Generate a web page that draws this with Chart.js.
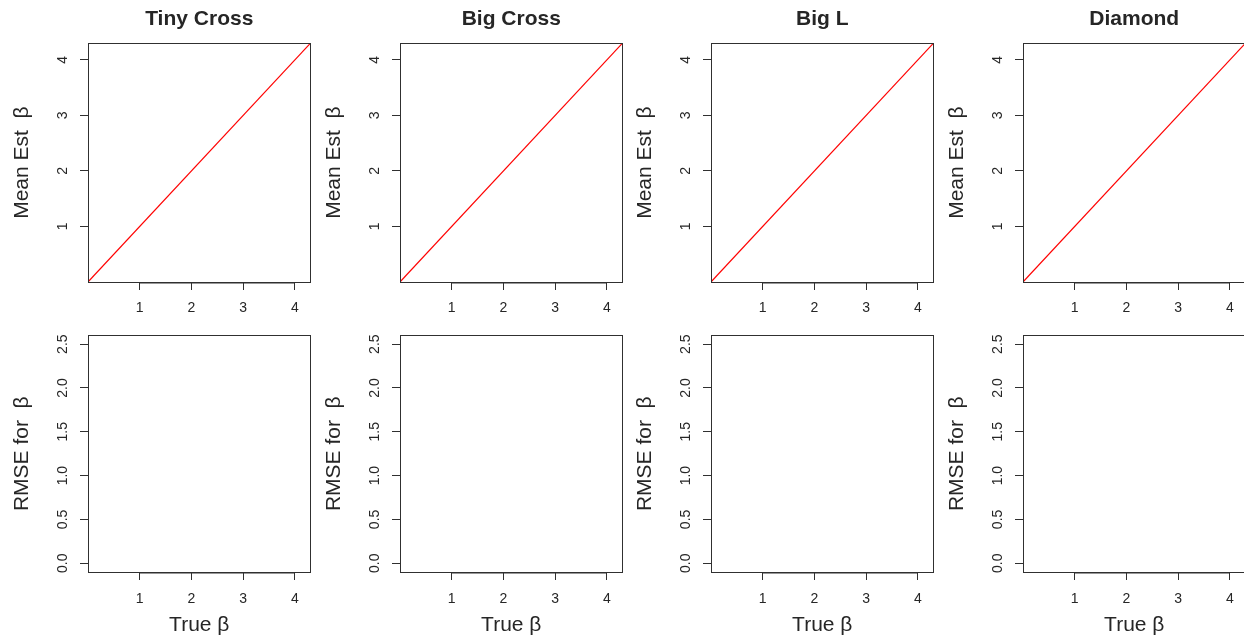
<!DOCTYPE html>
<html>
<head>
<meta charset="utf-8">
<script src="https://cdn.jsdelivr.net/npm/chart.js@4"></script>
<style>
  html, body { margin: 0; padding: 0; background: #fff; overflow: hidden; }
  #wrap { position: relative; width: 1244px; height: 641px; overflow: hidden; }
  .cell { position: absolute; width: 311px; height: 321px; }
  .cell canvas { display: block; }
</style>
</head>
<body>
<div id="wrap"></div>
<script>
// ---------------------------------------------------------------------------
// Data
// ---------------------------------------------------------------------------
const SHAPES = ['Tiny Cross', 'Big Cross', 'Big L', 'Diamond'];

const TRUE_BETA_RANGE = [0, 4.3];
const TRUE_BETA_TICKS = [1, 2, 3, 4];

const MEAN_EST_RANGE = [0, 4.3];
const MEAN_EST_TICKS = [1, 2, 3, 4];

const RMSE_RANGE = [-0.1, 2.6];
const RMSE_TICKS = [0, 0.5, 1, 1.5, 2, 2.5];

// reference line y = x (red)
const REF_X = [0, 4.3];
const REF_Y = [0, 4.3];

// ---------------------------------------------------------------------------
// Style
// ---------------------------------------------------------------------------
const FONT = "'Liberation Sans', Arial, Helvetica, sans-serif";
const INK = '#262626';
const LINE = '#303030';
const COL_LEFT = [0, 312, 623, 935];
const CELL_W = 311, CELL_H = 321;

Chart.defaults.font.family = FONT;
Chart.defaults.color = INK;

// full box round the plot region, like R's box()
const boxPlugin = {
  id: 'rbox',
  afterDatasetsDraw(chart) {
    const { ctx, chartArea: a, scales } = chart;
    const l = Math.floor(a.left) + 0.5, r = Math.floor(a.right) + 0.5;
    const t = Math.floor(a.top) + 0.5, b = Math.floor(a.bottom) + 0.5;
    ctx.save();
    ctx.strokeStyle = LINE;
    ctx.lineWidth = 1;
    ctx.strokeRect(l, t, r - l, b - t);
    // axis line between first and last tick sits on the box edge
    const x = scales.x;
    const x0 = x.getPixelForValue(x.ticks[0].value);
    const x1 = x.getPixelForValue(x.ticks[x.ticks.length - 1].value);
    ctx.lineWidth = 1.6;
    ctx.beginPath();
    ctx.moveTo(x0, b + 0.3);
    ctx.lineTo(x1, b + 0.3);
    ctx.stroke();
    ctx.restore();
  },
};

function makePanel(col, row) {
  const top = row === 0;
  const el = document.createElement('div');
  el.className = 'cell';
  el.style.left = COL_LEFT[col] + 'px';
  el.style.top = (top ? 0 : 320) + 'px';
  const cv = document.createElement('canvas');
  cv.width = CELL_W;
  cv.height = CELL_H;
  cv.style.width = CELL_W + 'px';
  cv.style.height = CELL_H + 'px';
  el.appendChild(cv);
  document.getElementById('wrap').appendChild(el);

  const yTicks = top ? MEAN_EST_TICKS : RMSE_TICKS;
  const yRange = top ? MEAN_EST_RANGE : RMSE_RANGE;

  return new Chart(cv, {
    type: 'scatter',
    data: {
      datasets: top ? [{
        data: REF_X.map((v, i) => ({ x: v, y: REF_Y[i] })),
        showLine: true,
        borderColor: '#ff0000',
        borderWidth: 1.2,
        pointRadius: 0,
        fill: false,
      }] : [],
    },
    options: {
      responsive: false,
      animation: false,
      events: [],
      layout: { padding: { top: top ? 0 : 14, right: 0.5, left: 0, bottom: 0 } },
      plugins: {
        legend: { display: false },
        tooltip: { enabled: false },
        title: {
          display: top,
          text: SHAPES[col],
          fullSize: false,
          color: INK,
          font: { size: 21, weight: 'bold' },
          padding: { top: 6.4, bottom: 11.6 },
        },
      },
      scales: {
        x: {
          type: 'linear',
          min: TRUE_BETA_RANGE[0],
          max: TRUE_BETA_RANGE[1],
          afterBuildTicks: s => { s.ticks = TRUE_BETA_TICKS.map(v => ({ value: v })); },
          afterFit: s => { s.height = top ? 39 : 69; },
          grid: { drawOnChartArea: false, drawTicks: true, tickLength: 8, color: LINE },
          border: { display: true, color: LINE },
          ticks: {
            autoSkip: false,
            maxRotation: 0,
            padding: top ? 9.5 : 11,
            color: INK,
            font: { size: 14 },
            callback: v => String(v),
          },
          title: {
            display: !top,
            text: 'True β',
            color: INK,
            font: { size: 21 },
            padding: { top: 0, bottom: 3.4 },
          },
        },
        y: {
          type: 'linear',
          min: yRange[0],
          max: yRange[1],
          afterBuildTicks: s => { s.ticks = yTicks.map(v => ({ value: v })); },
          afterFit: s => { s.width = 88; },
          grid: { drawOnChartArea: false, drawTicks: true, tickLength: 8, color: LINE },
          border: { display: true, color: LINE },
          ticks: {
            autoSkip: false,
            minRotation: 90,
            maxRotation: 90,
            crossAlign: 'center',
            padding: top ? 13 : 7,
            color: INK,
            font: { size: 14 },
            callback: v => top ? String(v) : v.toFixed(1),
          },
          title: {
            display: true,
            text: top ? 'Mean Est  β' : 'RMSE for  β',
            color: INK,
            font: { size: 21 },
            padding: { top: 9.4, bottom: 0 },
          },
        },
      },
    },
    plugins: [boxPlugin],
  });
}

for (let c = 0; c < SHAPES.length; c++) {
  makePanel(c, 0);
  makePanel(c, 1);
}
</script>
</body>
</html>
